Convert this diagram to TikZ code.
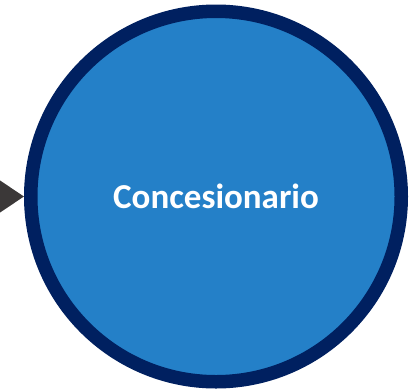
\documentclass[tikz,border=0pt]{standalone}
\usepackage{fontspec}
\setsansfont{Carlito}
\usetikzlibrary{positioning}
\usetikzlibrary{arrows.meta}
\definecolor{hubblue}{RGB}{36,128,200}
\definecolor{hubnavy}{RGB}{0,32,96}
\definecolor{arrowgray}{RGB}{59,56,56}
\tikzset{
   hub/.style = {%
    shape=circle,
    draw=hubnavy,
    line width=13.5pt,
    fill=hubblue,
    minimum size=370.5pt,
    align=center,
    text=white,
    font=\sffamily\bfseries\fontsize{35}{35}\selectfont},
 arrow/.style = {%
    draw=arrowgray,
    line width=3pt,
    -{Triangle[length=26pt, width=34pt]},
    shorten >=0pt},
    }
\begin{document}
\begin{tikzpicture}[x=1pt, y=-1pt]
    \useasboundingbox (0,0) rectangle (419,391);
    \node[hub] (dealer) at (216,196.5) {Concesionario};
    \coordinate[left=60pt of dealer.west] (source);
    \draw[arrow] (source) -- (dealer.west);
\end{tikzpicture}
\end{document}
